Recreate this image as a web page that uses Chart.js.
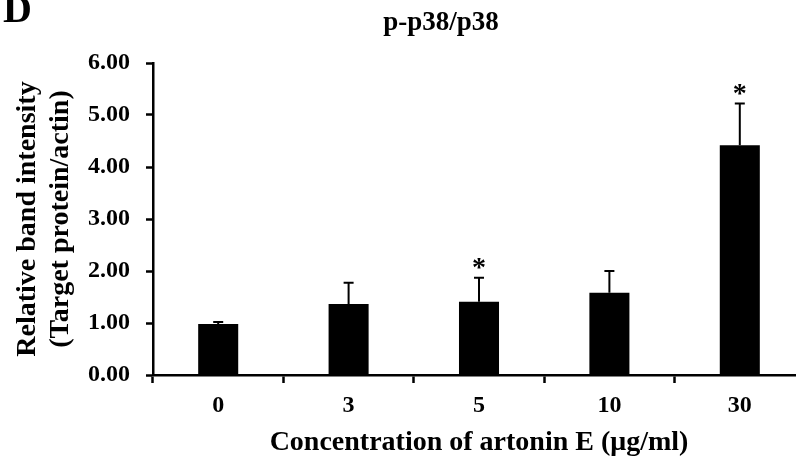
<!DOCTYPE html>
<html>
<head>
<meta charset="utf-8">
<script src="https://cdn.jsdelivr.net/npm/chart.js@4.4.1/dist/chart.umd.min.js"></script>
<style>
    body { margin: 0; background: #fff; }
    #wrap { width: 796px; height: 464px; overflow: hidden; position: relative; }
    #chart { display: block; }
</style>
</head>
<body>
<div id="wrap"><canvas id="chart" width="812" height="464"></canvas></div>
<script>
const concentrations = ['0', '3', '5', '10', '30'];
const intensity = [0.98, 1.365, 1.41, 1.58, 4.42];
const errors = [0.04, 0.41, 0.46, 0.42, 0.80];
const significant = [false, false, true, false, true];
const yTicks = [0, 1, 2, 3, 4, 5, 6];

const serif = "'Liberation Serif', 'Times New Roman', serif";

// error bars, stars, panel letter and title
const extras = {
    id: 'extras',
    afterDatasetsDraw(chart) {
        const ctx = chart.ctx;
        const x = chart.scales.x;
        const y = chart.scales.y;
        ctx.save();
        ctx.strokeStyle = '#000';
        ctx.fillStyle = '#000';
        ctx.lineWidth = 2;
        intensity.forEach((v, i) => {
            const cx = x.getPixelForValue(i);
            const top = y.getPixelForValue(v + errors[i]);
            const base = y.getPixelForValue(v);
            ctx.beginPath();
            ctx.moveTo(cx, base);
            ctx.lineTo(cx, top);
            ctx.moveTo(cx - 5, top);
            ctx.lineTo(cx + 5, top);
            ctx.stroke();
            if (significant[i]) {
                ctx.font = 'bold 28px ' + serif;
                ctx.textAlign = 'center';
                ctx.textBaseline = 'alphabetic';
                ctx.fillText('*', cx, top - 2);
            }
        });

        ctx.textAlign = 'left';
        ctx.textBaseline = 'alphabetic';
        ctx.font = 'bold 40px ' + serif;
        ctx.fillText('D', 3, 22);

        ctx.textAlign = 'center';
        ctx.font = 'bold 27px ' + serif;
        ctx.fillText('p-p38/p38', 441, 30);
        ctx.restore();
    }
};

const chart = new Chart(document.getElementById('chart'), {
    type: 'bar',
    data: {
        labels: concentrations,
        datasets: [{
            data: intensity,
            backgroundColor: '#000',
            borderWidth: 0,
            barPercentage: 0.307,
            categoryPercentage: 1
        }]
    },
    options: {
        responsive: false,
        animation: false,
        layout: { padding: { top: 63, right: 7, left: 0, bottom: 0 } },
        plugins: {
            legend: { display: false },
            tooltip: { enabled: false }
        },
        scales: {
            x: {
                grid: {
                    display: true,
                    offset: true,
                    drawOnChartArea: false,
                    drawTicks: true,
                    tickLength: 8,
                    tickWidth: 2.5,
                    tickColor: '#000'
                },
                border: { display: true, color: '#000', width: 2.5 },
                ticks: {
                    color: '#000',
                    padding: 8,
                    font: { family: serif, size: 24, weight: 'bold' }
                },
                title: {
                    display: true,
                    text: 'Concentration of artonin E (μg/ml)',
                    color: '#000',
                    padding: { top: 0, bottom: 4 },
                    font: { family: serif, size: 28, weight: 'bold' }
                },
                afterFit(scale) { scale.height = 89; }
            },
            y: {
                min: 0,
                max: 6,
                afterBuildTicks(scale) { scale.ticks = yTicks.map(v => ({ value: v })); },
                grid: {
                    display: true,
                    drawOnChartArea: false,
                    drawTicks: true,
                    tickLength: 7,
                    tickWidth: 2.5,
                    tickColor: '#000'
                },
                border: { display: true, color: '#000', width: 2.5 },
                ticks: {
                    color: '#000',
                    padding: 16,
                    font: { family: serif, size: 24, weight: 'bold' },
                    callback: v => v.toFixed(2)
                },
                title: {
                    display: true,
                    text: ['Relative band intensity', '(Target protein/actin)'],
                    color: '#000',
                    padding: { top: 11, bottom: 0 },
                    font: { family: serif, size: 28, weight: 'bold', lineHeight: 1.18 }
                },
                afterFit(scale) { scale.width = 153; }
            }
        }
    },
    plugins: [extras]
});
</script>
</body>
</html>
